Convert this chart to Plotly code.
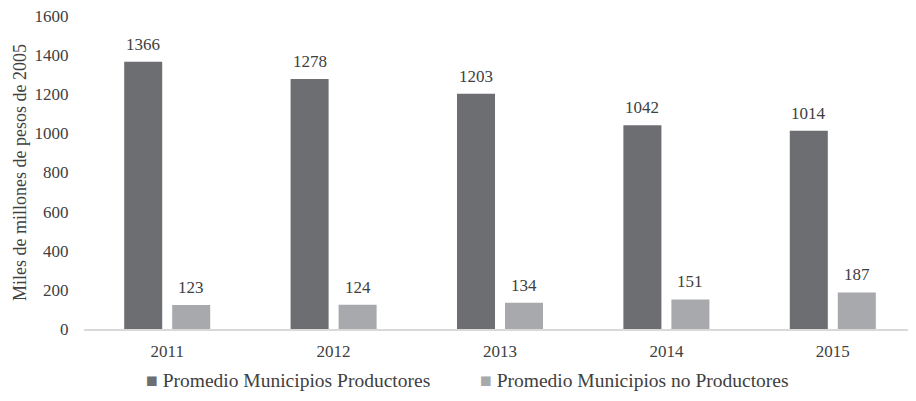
import plotly.graph_objects as go

years = ["2011", "2012", "2013", "2014", "2015"]
productores = [1366, 1278, 1203, 1042, 1014]
no_productores = [123, 124, 134, 151, 187]
y_ticks = [0, 200, 400, 600, 800, 1000, 1200, 1400, 1600]
series_names = ["Promedio Municipios Productores", "Promedio Municipios no Productores"]

DARK = "#6d6e71"
LIGHT = "#a7a9ac"
TEXT = "#404040"
FONT = "Liberation Serif"

fig = go.Figure()
fig.add_trace(go.Bar(x=years, y=productores, name=series_names[0],
                     marker=dict(color=DARK, line=dict(width=0))))
fig.add_trace(go.Bar(x=years, y=no_productores, name=series_names[1],
                     marker=dict(color=LIGHT, line=dict(width=0))))

annotations = []
for i, v in enumerate(productores):
    annotations.append(dict(x=i, y=v, xref="x", yref="y", text=str(v), showarrow=False,
                            xshift=-24, yshift=6, yanchor="bottom",
                            font=dict(family=FONT, size=17, color=TEXT)))
for i, v in enumerate(no_productores):
    annotations.append(dict(x=i, y=v, xref="x", yref="y", text=str(v), showarrow=False,
                            xshift=24, yshift=6, yanchor="bottom",
                            font=dict(family=FONT, size=17, color=TEXT)))

# legend drawn as text annotations
for name, col, xc in zip(series_names, [DARK, LIGHT], [0.245, 0.662]):
    annotations.append(dict(x=xc, y=-0.166, xref="paper", yref="paper",
                            xanchor="center", yanchor="middle", showarrow=False,
                            text=f'<span style="color:{col}">■</span> {name}',
                            font=dict(family=FONT, size=19.5, color=TEXT)))

fig.update_layout(
    width=908, height=393,
    margin=dict(l=76, r=0, t=8, b=72),
    paper_bgcolor="white", plot_bgcolor="white",
    font=dict(family=FONT, size=17, color=TEXT),
    barmode="group", bargap=0.423, bargroupgap=0.208,
    annotations=annotations,
    showlegend=False,
    xaxis=dict(type="category", automargin=False,
               showline=True, linecolor="#d9d9d9", linewidth=1.5, showgrid=False,
               ticks="outside", ticklen=6, tickcolor="rgba(0,0,0,0)",
               range=[-0.5, 4.5], tickfont=dict(family=FONT, size=17, color=TEXT)),
    yaxis=dict(range=[0, 1600], tickvals=y_ticks, showgrid=False, zeroline=False,
               automargin=False, ticklabeloverflow="allow",
               showline=False, ticks="outside", ticklen=11, tickcolor="rgba(0,0,0,0)",
               tickfont=dict(family=FONT, size=17, color=TEXT),
               title=dict(text="Miles de millones de pesos de 2005", standoff=3,
                          font=dict(family=FONT, size=18, color=TEXT))),
)

fig.write_html("out.html")
